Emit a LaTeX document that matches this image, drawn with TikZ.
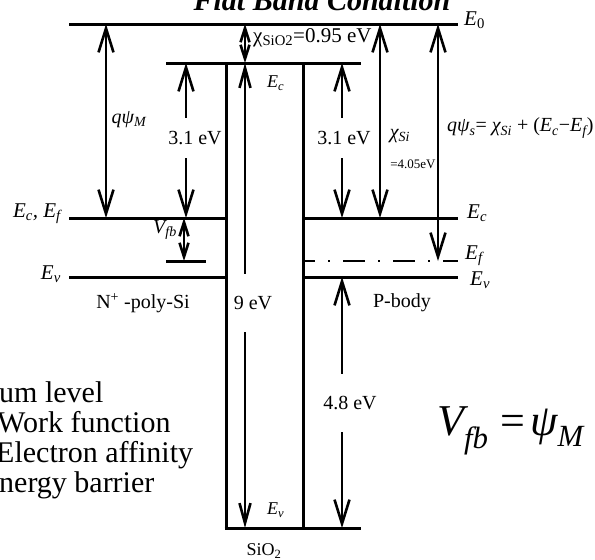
\documentclass[tikz,border=0pt]{standalone}
\usepackage{fontspec}
\setmainfont{Liberation Serif}
\usetikzlibrary{arrows.meta}

\newcommand{\sbs}[1]{\textsubscript{#1}}

\begin{document}
\begin{tikzpicture}[x=1pt, y=-1pt,
  lvl/.style={line width=3pt},
  arr/.style={line width=2.6pt, <->, >={Straight Barb[length=24pt,width=15pt]}},
  sarr/.style={arr, >={Straight Barb[length=14pt,width=9pt]}},
  lbl/.style={font=\fontsize{20}{22}\selectfont, inner sep=1pt},
  gap/.style={lbl, fill=white, inner xsep=2pt},
  elbl/.style={font=\fontsize{21}{23}\selectfont\itshape, inner sep=1pt},
  note/.style={font=\fontsize{30}{32}\selectfont, anchor=base west, inner sep=0pt},
]
\useasboundingbox (0,0) rectangle (595,560);
\clip (0,0) rectangle (595,560);

% Title (cut at the top)
\node[anchor=base, font=\fontsize{30}{32}\selectfont\bfseries\itshape] (title) at (322,10) {Flat Band Condition};

% Vacuum level
\draw[lvl] (69,24) -- (458,24);
\node[elbl, anchor=west] (e0) at (463,20) {E\sbs{\upshape 0}};

% Oxide box
\draw[lvl] (166,63) -- (361,63);
\draw[lvl] (226,63) -- (226,528);
\draw[lvl] (303,63) -- (303,528);
\draw[lvl] (224.5,528) -- (361,528);
\node[elbl, font=\fontsize{18}{20}\selectfont\itshape, anchor=west] (oxec) at (266,83) {E\sbs{c}};
\node[elbl, font=\fontsize{18}{20}\selectfont\itshape, anchor=west] (oxev) at (266,510) {E\sbs{v}};
\node[lbl, font=\fontsize{18}{20}\selectfont] (sio2) at (264,551) {SiO\sbs{2}};

% N+ poly gate
\draw[lvl] (69,218) -- (226,218);
\draw[lvl] (69,277) -- (226,277);
\draw[lvl] (166,261) -- (206,261);
\node[elbl, anchor=east] (gec) at (62,214) {E\sbs{c}, E\sbs{f}};
\node[elbl, anchor=east] (gev) at (62,274) {E\sbs{v}};
\node[lbl] (gate) at (143,303) {N\textsuperscript{+} -poly-Si};

% P-body
\draw[lvl] (303,218) -- (458,218);
\draw[line width=2pt, dash pattern=on 22pt off 13pt on 2pt off 13pt, dash phase=10pt] (303,261) -- (458,261);
\draw[lvl] (303,277) -- (458,277);
\node[elbl, anchor=west] (bec) at (466,213) {E\sbs{c}};
\node[elbl, anchor=west] (bef) at (464,256) {E\sbs{f}};
\node[elbl, anchor=west] (bev) at (469,280) {E\sbs{v}};
\node[lbl] (body) at (402,303) {P-body};

% Arrows
\draw[arr] (106,24) -- (106,218);
\node[elbl, font=\fontsize{20}{22}\selectfont\itshape] (psim) at (129,120) {qψ\sbs{M}};

\draw[sarr] (245,24) -- (245,63);
\node[lbl, font=\fontsize{21}{23}\selectfont, anchor=west] (chiox) at (252,38) {χ\sbs{SiO2}=0.95 eV};

\draw[arr, >={Straight Barb[length=20pt,width=11pt]}] (245,63) -- (245,528);
\node[gap, inner ysep=22pt] (g9) at (253,303) {9 eV};

\draw[arr] (186,63) -- (186,218);
\node[gap, inner ysep=13pt] (g31a) at (195,138) {3.1 eV};

\draw[sarr] (184,218) -- (184,261);
\node[elbl, font=\fontsize{20}{22}\selectfont\itshape] (vfb) at (165,230) {V\sbs{fb}};

\draw[arr] (342,63) -- (342,218);
\node[gap, inner ysep=13pt] (g31b) at (344,138) {3.1 eV};

\draw[arr] (380,24) -- (380,218);
\node[elbl, font=\fontsize{20}{22}\selectfont\itshape] (chisi) at (400,136) {χ\sbs{Si}};
\node[lbl, font=\fontsize{13}{15}\selectfont] (chival) at (413,164) {=4.05eV};

\draw[arr] (438,24) -- (438,261);
\node[lbl, anchor=west] (psis) at (446,128) {\itshape qψ\sbs{s}\upshape= \itshape χ\sbs{Si}\upshape{} + (\itshape E\sbs{c}\upshape−\itshape E\sbs{f}\upshape)};

\draw[arr] (342,277) -- (342,528);
\node[gap, inner ysep=22pt] (g48) at (350,403) {4.8 eV};

% Flat band voltage
\node[font=\fontsize{44}{46}\selectfont\itshape, anchor=base west, inner sep=0pt] (vfbeq) at (437,435) {V\sbs{fb}\hspace{12pt}\upshape=\hspace{5pt}\itshape ψ\sbs{M}};

% Legend (cut at the left)
\node[note] (n1) at (-1,402) {um level};
\node[note] (n2) at (-3,432) {Work function};
\node[note] (n3) at (-4,462) {Electron affinity};
\node[note] (n4) at (-1,492) {nergy barrier};

\end{tikzpicture}
\end{document}
